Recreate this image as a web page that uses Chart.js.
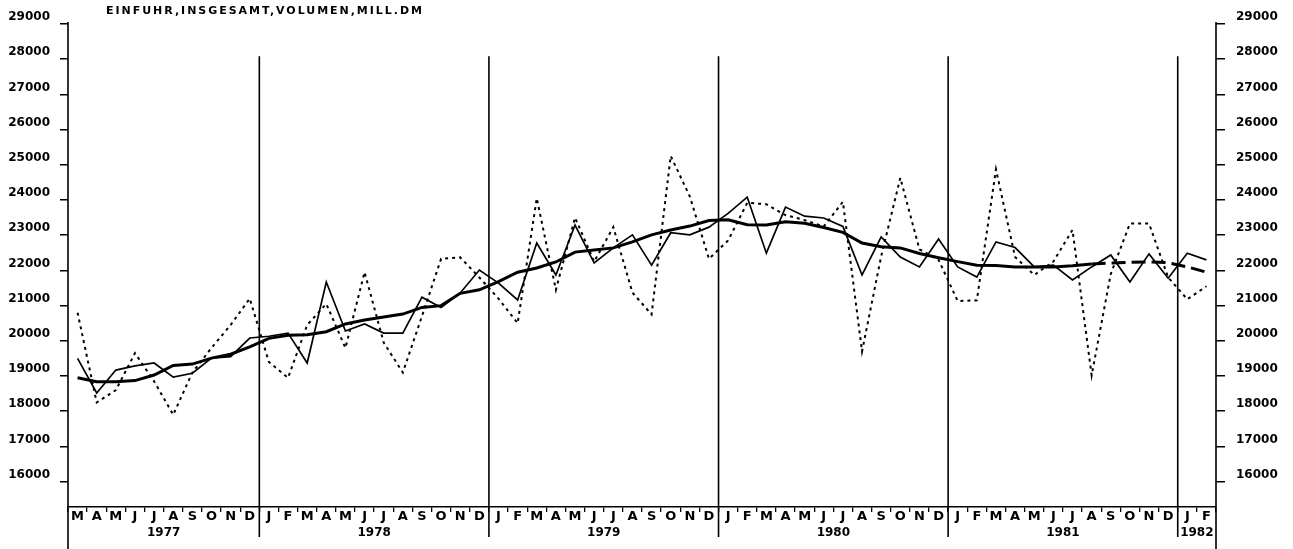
<!DOCTYPE html>
<html>
<head>
<meta charset="utf-8">
<title>Einfuhr insgesamt, Volumen</title>
<script src="https://cdn.jsdelivr.net/npm/chart.js@4.4.1/dist/chart.umd.min.js"></script>
<style>
  html, body { margin: 0; padding: 0; background: #fff; }
  #wrap { position: relative; width: 1293px; height: 549px; }
</style>
</head>
<body>
<div id="wrap"><canvas id="chart" width="1293" height="549"></canvas></div>
<script>
// months from March 1977 to February 1982
const monthLabels = [
  'M','A','M','J','J','A','S','O','N','D',
  'J','F','M','A','M','J','J','A','S','O','N','D',
  'J','F','M','A','M','J','J','A','S','O','N','D',
  'J','F','M','A','M','J','J','A','S','O','N','D',
  'J','F','M','A','M','J','J','A','S','O','N','D',
  'J','F'
];
const yearLabels = ['1977', '1978', '1979', '1980', '1981', '1982'];
const monthsPerYear = [10, 12, 12, 12, 12, 2];

// original values (dotted)
const rawValues = [
  20800, 18250, 18600, 19650, 18850, 17900, 19100, 19800, 20450, 21200,
  19400, 18950, 20450, 21050, 19800, 21950, 19950, 19100, 20700, 22330, 22370, 21800,
  21200, 20500, 24050, 21450, 23500, 22250, 23230, 21370, 20750, 25250, 24100, 22330,
  22850, 23920, 23880, 23570, 23430, 23250, 23950, 19700, 22400, 24630, 22600, 22300,
  21130, 21150, 24870, 22380, 21870, 22250, 23150, 19020, 21900, 23330, 23330, 21800,
  21180, 21550
];

// seasonally adjusted (thin line)
const adjustedValues = [
  19500, 18520, 19170, 19290, 19370, 18970, 19080, 19510, 19550, 20080,
  20130, 20220, 19370, 21670, 20280, 20480, 20220, 20220, 21240, 20950, 21360, 22010,
  21640, 21160, 22780, 21870, 23290, 22210, 22640, 23010, 22150, 23070, 23010, 23230,
  23620, 24080, 22490, 23800, 23540, 23490, 23250, 21870, 22950, 22380, 22100, 22890,
  22100, 21810, 22810, 22650, 22100, 22150, 21730, 22100, 22440, 21670, 22470, 21780,
  22490, 22300
];

// trend (thick line), last months provisional
const trendValues = [
  18950, 18840, 18840, 18870, 19030, 19300, 19340, 19510, 19620, 19830,
  20070, 20160, 20170, 20260, 20480, 20590, 20680, 20760, 20950, 21000, 21350, 21450,
  21680, 21950, 22070, 22240, 22520, 22580, 22640, 22810, 23010, 23150, 23260, 23420,
  23440, 23300, 23290, 23380, 23340, 23220, 23080, 22780, 22670, 22640, 22480, 22360,
  22250, 22150, 22140, 22100, 22100, 22100, 22130, 22180, 22210, 22230, 22240, 22220,
  22100, 21950
];
const trendProvisionalFrom = 53;

const tickValues = [16000, 17000, 18000, 19000, 20000, 21000, 22000, 23000, 24000, 25000, 26000, 27000, 28000, 29000];
const yMin = 15280;
const yMax = 29000;

const title = 'EINFUHR,INSGESAMT,VOLUMEN,MILL.DM';

Chart.defaults.font.family = "'DejaVu Sans', sans-serif";
Chart.defaults.font.weight = 'bold';
Chart.defaults.color = '#000';

// keeps only the round thousands as ticks
function keepTicks(scale) {
  scale.ticks = tickValues.map(v => ({ value: v }));
}

// year separators, long axis lines, year labels and title
const sheet = {
  id: 'sheet',
  beforeDatasetsDraw(chart) {
    const ctx = chart.ctx, a = chart.chartArea;
    const xs = chart.scales.x, ys = chart.scales.y;
    ctx.save();
    ctx.strokeStyle = '#000';
    ctx.lineWidth = 1.6;
    ctx.beginPath();
    ctx.moveTo(a.left, a.top - 2);
    ctx.lineTo(a.left, chart.height);
    ctx.moveTo(a.right, a.top - 2);
    ctx.lineTo(a.right, chart.height);
    let start = 0;
    monthsPerYear.forEach((n, i) => {
      if (i > 0) {
        const xb = (xs.getPixelForValue(start - 1) + xs.getPixelForValue(start)) / 2;
        ctx.moveTo(xb, ys.getPixelForValue(28000) - 3);
        ctx.lineTo(xb, a.bottom + 30);
      }
      start += n;
    });
    ctx.stroke();
    ctx.restore();
  },
  afterDraw(chart) {
    const ctx = chart.ctx, a = chart.chartArea, xs = chart.scales.x;
    ctx.save();
    ctx.fillStyle = '#000';
    ctx.font = "bold 12px 'DejaVu Sans'";
    ctx.textAlign = 'center';
    ctx.textBaseline = 'middle';
    let start = 0;
    monthsPerYear.forEach((n, i) => {
      const l = start === 0 ? a.left : (xs.getPixelForValue(start - 1) + xs.getPixelForValue(start)) / 2;
      const end = start + n;
      const r = end >= monthLabels.length ? a.right : (xs.getPixelForValue(end - 1) + xs.getPixelForValue(end)) / 2;
      ctx.fillText(yearLabels[i], (l + r) / 2, a.bottom + 26);
      start = end;
    });

    // title spread out like the plotter lettering
    ctx.font = "bold 11px 'DejaVu Sans'";
    ctx.textAlign = 'left';
    const w = ctx.measureText(title).width;
    ctx.letterSpacing = Math.max(0, (316 - w) / (title.length - 1)) + 'px';
    ctx.fillText(title, 106, 11);
    ctx.restore();
  }
};

const plainNumber = v => String(v);

new Chart(document.getElementById('chart'), {
  type: 'line',
  data: {
    labels: monthLabels,
    datasets: [
      {
        label: 'Trend',
        data: trendValues,
        borderColor: '#000',
        borderWidth: 3,
        pointRadius: 0,
        tension: 0,
        order: 1,
        segment: {
          borderDash: c => c.p0DataIndex >= trendProvisionalFrom ? [14, 6] : undefined
        }
      },
      {
        label: 'Saisonbereinigt',
        data: adjustedValues,
        borderColor: '#000',
        borderWidth: 1.7,
        pointRadius: 0,
        tension: 0,
        order: 2
      },
      {
        label: 'Ursprungswerte',
        data: rawValues,
        borderColor: '#000',
        borderWidth: 2,
        borderDash: [3, 4],
        pointRadius: 0,
        tension: 0,
        order: 3
      }
    ]
  },
  options: {
    responsive: false,
    animation: false,
    layout: { padding: { top: 24, left: 0, right: 0, bottom: 0 } },
    plugins: {
      legend: { display: false },
      tooltip: { enabled: false }
    },
    scales: {
      x: {
        type: 'category',
        offset: true,
        afterFit: s => { s.height = 42; },
        grid: { display: true, offset: true, drawOnChartArea: false, tickLength: 5, color: '#000', lineWidth: 1.3 },
        border: { display: true, color: '#000', width: 1.6 },
        ticks: { autoSkip: false, maxRotation: 0, padding: -3, font: { size: 13, weight: 'bold' } }
      },
      y: {
        position: 'left',
        min: yMin,
        max: yMax,
        afterBuildTicks: keepTicks,
        afterFit: s => { s.width = 68; },
        grid: { drawOnChartArea: false, tickLength: 8, color: '#000', lineWidth: 1.5 },
        border: { display: false },
        ticks: { padding: 10, labelOffset: -7, callback: plainNumber, font: { size: 12, weight: 'bold' } }
      },
      y2: {
        position: 'right',
        min: yMin,
        max: yMax,
        afterBuildTicks: keepTicks,
        afterFit: s => { s.width = 77; },
        grid: { drawOnChartArea: false, tickLength: 9, color: '#000', lineWidth: 1.5 },
        border: { display: false },
        ticks: { padding: 11, labelOffset: -7, callback: plainNumber, font: { size: 12, weight: 'bold' } }
      }
    }
  },
  plugins: [sheet]
});
</script>
</body>
</html>
